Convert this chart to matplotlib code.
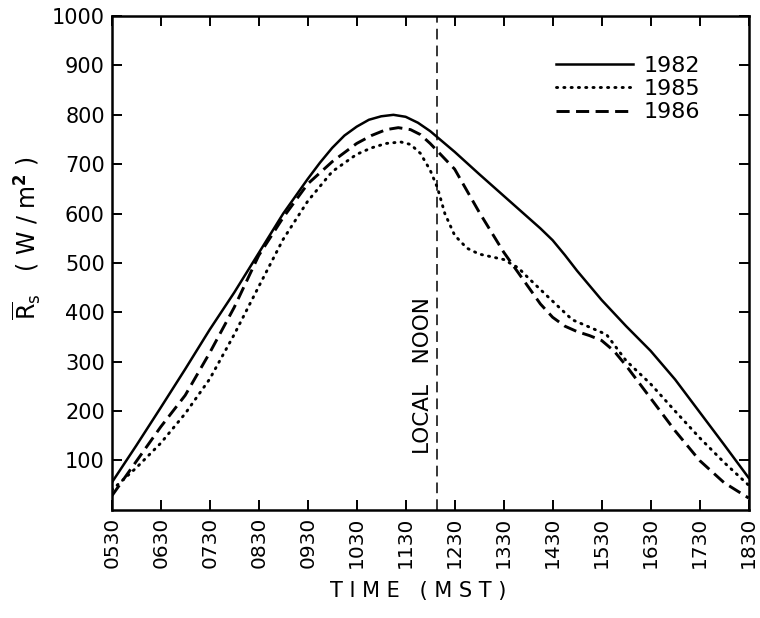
import numpy as np
import matplotlib
matplotlib.use('Agg')
import matplotlib.pyplot as plt

plt.rcParams['font.family'] = ['DejaVu Sans']
plt.rcParams['mathtext.fontset'] = 'dejavusans'

# time in decimal hours (MST)
t_1982 = [5.5, 6.0, 6.5, 7.0, 7.5, 8.0, 8.5, 9.0, 9.5, 9.75, 10.0, 10.25,
          10.5, 10.75, 11.0, 11.25, 11.5, 11.75, 12.0, 12.5, 13.0, 13.5,
          14.0, 14.25, 14.5, 14.75, 15.0, 15.5, 16.0, 16.5, 17.0, 17.5,
          18.0, 18.5]
rs_1982 = [55, 130, 207, 285, 365, 440, 520, 600, 670, 703, 733, 758,
           776, 790, 797, 800, 796, 784, 767, 725, 680, 636,
           592, 570, 546, 516, 484, 425, 372, 322, 264, 198,
           132, 65]

t_1985 = [5.5, 6.0, 6.5, 7.0, 7.5, 8.0, 8.5, 9.0, 9.5, 10.0, 10.5, 10.8,
          11.1, 11.4, 11.6, 11.8, 12.0, 12.15, 12.3, 12.5, 12.75, 13.0,
          13.5, 13.8, 14.0, 14.4, 14.9, 15.3, 15.6, 16.0, 16.5, 17.0, 17.5,
          18.0, 18.5]
rs_1985 = [40, 85, 135, 195, 265, 355, 452, 548, 625, 685, 720, 733,
           742, 745, 740, 722, 688, 652, 600, 556, 530, 518,
           507, 490, 470, 432, 385, 368, 355, 302, 255, 200, 146,
           96, 50]

t_1986 = [5.5, 6.0, 6.5, 7.0, 7.5, 8.0, 8.5, 9.0, 9.5, 10.0, 10.5, 10.8,
          11.1, 11.35, 11.6, 11.8, 12.0, 12.5, 13.0, 13.5, 14.0, 14.25,
          14.5, 14.75, 15.0, 15.25, 15.5, 15.75, 16.0, 16.5, 17.0, 17.5,
          18.0, 18.5]
rs_1986 = [28, 98, 168, 232, 318, 410, 515, 592, 660, 705, 742, 758,
           770, 774, 770, 760, 742, 690, 603, 522, 452, 417,
           390, 372, 361, 353, 343, 322, 292, 226, 160, 100,
           55, 24]

noon = 12.13
xticks = np.arange(5.5, 18.6, 1.0)
xlabels = ['0530', '0630', '0730', '0830', '0930', '1030', '1130', '1230',
           '1330', '1430', '1530', '1630', '1730', '1830']
yticks = [100, 200, 300, 400, 500, 600, 700, 800, 900, 1000]

fig = plt.figure(figsize=(7.6, 6.18), dpi=100)
ax = fig.add_axes([0.147, 0.175, 0.838, 0.799])

ax.plot(t_1982, rs_1982, color='black', lw=1.8, label='1982')
ax.plot(t_1985, rs_1985, color='black', lw=2.1, linestyle=(0, (0.4, 2.1)),
        dash_capstyle='round', label='1985')
ax.plot(t_1986, rs_1986, color='black', lw=2.1, linestyle=(0, (4.5, 2.2)),
        label='1986')

ax.axvline(noon, color='black', lw=1.1, linestyle=(0, (7, 4)))
ax.text(noon - 0.27, 272, 'LOCAL   NOON', rotation=90, ha='center',
        va='center', fontsize=15.5)

ax.set_xlim(5.5, 18.5)
ax.set_ylim(0, 1000)
ax.set_xticks(xticks)
ax.set_xticklabels(xlabels, rotation=90, fontsize=14.5)
ax.set_yticks(yticks)
ax.set_yticklabels([str(v) for v in yticks], fontsize=15)
ax.tick_params(direction='in', length=7, width=1.4, top=True, right=True,
               pad=5)
for s in ax.spines.values():
    s.set_linewidth(1.8)

fig.text(418 / 760, 1 - 591 / 618, 'T I M E   ( M S T )', fontsize=15,
         ha='center', va='center')
fig.text(27 / 760, 1 - 238 / 618,
         r'$\overline{\mathrm{R}}_{\mathrm{s}}$   ( W / m$^{\mathbf{2}}$ )',
         fontsize=17, rotation=90, ha='center', va='center')

leg = ax.legend(loc='upper right', bbox_to_anchor=(0.955, 0.96), frameon=False,
                fontsize=16, handlelength=3.5, handletextpad=0.45,
                labelspacing=0.15)

fig.savefig('out.png', dpi=100)
